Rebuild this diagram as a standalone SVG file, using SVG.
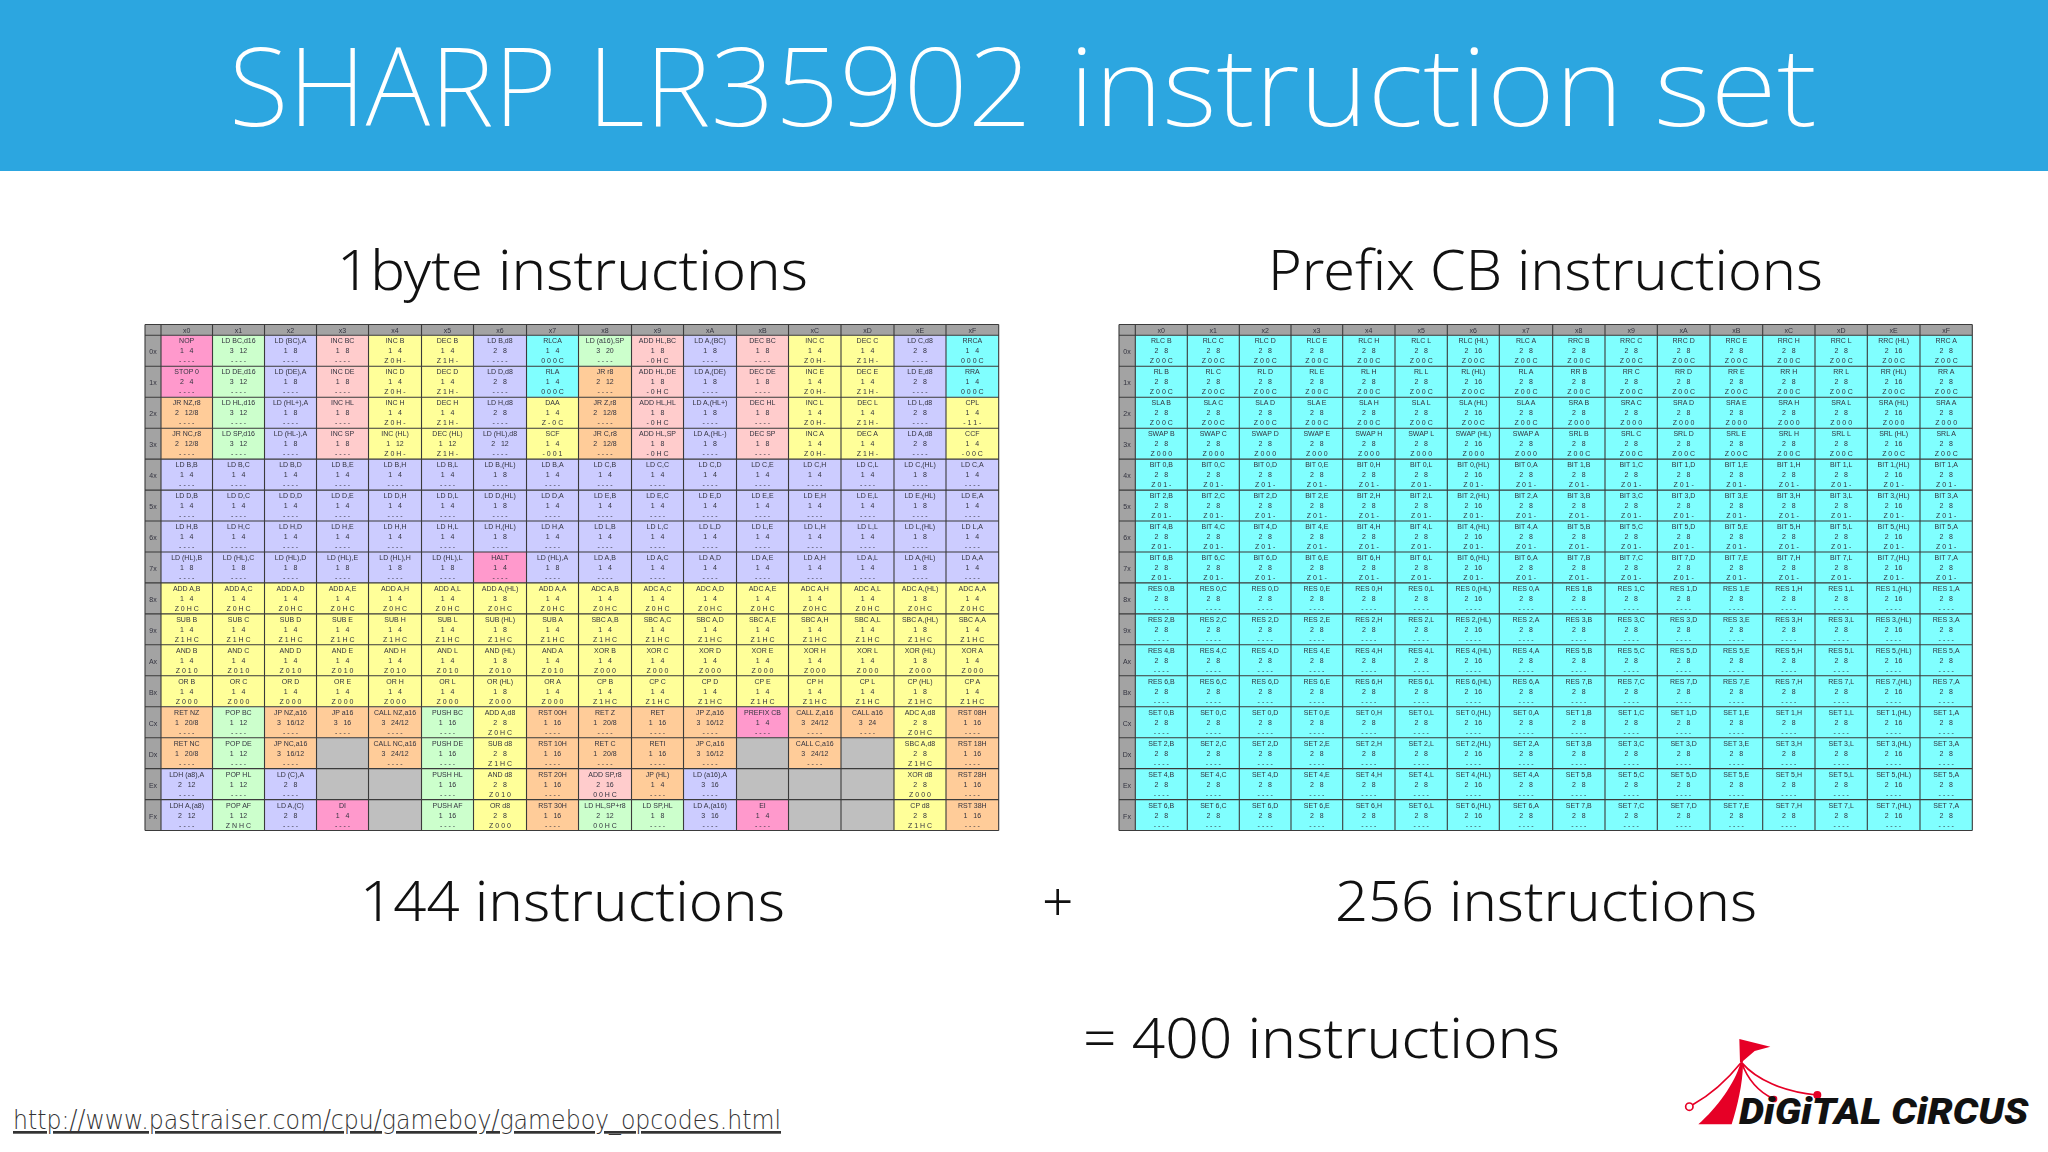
<svg xmlns="http://www.w3.org/2000/svg" width="2048" height="1152" viewBox="0 0 2048 1152">
<style>
.h{font-family:"Noto Sans","Open Sans",sans-serif;font-weight:300;fill:#111;font-size:55px}
.t{font-family:"Liberation Sans",Arial,sans-serif;font-size:7px;fill:#33333f;text-anchor:middle;filter:url(#b)}
.t text{white-space:pre}
.g{stroke:#3a3a3a;stroke-width:1.1;fill:none;filter:url(#b)}
.a{fill:#ccccff}.y{fill:#ffff99}.p{fill:#ff99cc}.o{fill:#ffcc99}.n{fill:#ccffcc}.r{fill:#ffcccc}.c{fill:#80ffff}.s{fill:#bfbfbf}.d{fill:#a3a3a3}
</style>
<defs><filter id="b" x="-5%" y="-5%" width="110%" height="110%"><feGaussianBlur stdDeviation="0.3"/></filter></defs>
<rect width="2048" height="1152" fill="#fff"/>
<g id="banner"><rect width="2048" height="171" fill="#2ca6e0"/>
<text y="125.5" font-family="Noto Sans,Open Sans,sans-serif" font-weight="200" font-size="109" fill="#fff"><tspan x="229" textLength="328" lengthAdjust="spacingAndGlyphs">SHARP</tspan> <tspan x="587" textLength="445" lengthAdjust="spacingAndGlyphs">LR35902</tspan> <tspan x="1069" textLength="554" lengthAdjust="spacingAndGlyphs">instruction</tspan> <tspan x="1654" textLength="163" lengthAdjust="spacingAndGlyphs">set</tspan></text></g>
<g id="headings">
<text class="h" x="337" y="290" textLength="471" lengthAdjust="spacingAndGlyphs">1byte instructions</text>
<text class="h" x="1268" y="290" textLength="555" lengthAdjust="spacingAndGlyphs">Prefix CB instructions</text>
<text class="h" x="360" y="920.5" textLength="425" lengthAdjust="spacingAndGlyphs">144 instructions</text>
<text class="h" x="1042" y="920.5">+</text>
<text class="h" x="1335" y="920.5" textLength="422" lengthAdjust="spacingAndGlyphs">256 instructions</text>
<text class="h" x="1083" y="1058" textLength="477" lengthAdjust="spacingAndGlyphs">= 400 instructions</text>
<text x="13" y="1129" font-family="DejaVu Sans,Noto Sans,sans-serif" font-weight="200" font-size="27" fill="#333" text-decoration="underline" textLength="768" lengthAdjust="spacingAndGlyphs">http://www.pastraiser.com/cpu/gameboy/gameboy_opcodes.html</text>
</g>
<g id="table-1byte">
<rect class="d" x="145" y="324.5" width="853.7" height="506"/>
<rect class="a" x="161" y="335.3" width="837.7" height="495.2"/>
<rect class="y" x="161" y="582.9" width="837.7" height="123.8"/>
<path class="y" d="M368.5 335.3H473.5V459.1H368.5ZM526.5 397.2H578.5V459.1H526.5ZM788.5 335.3H894V459.1H788.5ZM946 397.2H998.7V459.1H946ZM473.5 706.7H526.5V830.5H473.5ZM894 706.7H946V830.5H894Z"/>
<path class="p" d="M161 335.3H212.5V397.2H161ZM473.5 552H526.5V582.9H473.5ZM316.5 799.6H368.5V830.5H316.5ZM736.5 706.7H788.5V737.7H736.5ZM736.5 799.6H788.5V830.5H736.5Z"/>
<path class="o" d="M161 397.2H212.5V459.1H161ZM578.5 366.3H631.5V459.1H578.5ZM161 706.7H212.5V768.6H161ZM264.5 706.7H316.5V768.6H264.5ZM316.5 706.7H368.5V737.7H316.5ZM368.5 706.7H421.5V768.6H368.5ZM526.5 706.7H578.5V830.5H526.5ZM578.5 706.7H631.5V768.6H578.5ZM631.5 706.7H683.5V799.6H631.5ZM683.5 706.7H736.5V768.6H683.5ZM788.5 706.7H841V768.6H788.5ZM841 706.7H894V737.7H841ZM946 706.7H998.7V830.5H946Z"/>
<path class="n" d="M212.5 335.3H264.5V459.1H212.5ZM578.5 335.3H631.5V366.3H578.5ZM212.5 706.7H264.5V830.5H212.5ZM421.5 706.7H473.5V830.5H421.5ZM578.5 799.6H683.5V830.5H578.5Z"/>
<path class="r" d="M316.5 335.3H368.5V459.1H316.5ZM631.5 335.3H683.5V459.1H631.5ZM736.5 335.3H788.5V459.1H736.5ZM578.5 768.6H631.5V799.6H578.5Z"/>
<path class="c" d="M526.5 335.3H578.5V397.2H526.5ZM946 335.3H998.7V397.2H946Z"/>
<path class="s" d="M316.5 737.7H368.5V799.6H316.5ZM368.5 768.6H421.5V830.5H368.5ZM736.5 737.7H788.5V799.6H736.5ZM788.5 768.6H841V830.5H788.5ZM841 737.7H894V830.5H841Z"/>
<path class="g" d="M145 324.5H998.7M145 335.3H998.7M145 366.3H998.7M145 397.2H998.7M145 428.2H998.7M145 459.1H998.7M145 490.1H998.7M145 521H998.7M145 552H998.7M145 582.9H998.7M145 613.9H998.7M145 644.8H998.7M145 675.8H998.7M145 706.7H998.7M145 737.7H998.7M145 768.6H998.7M145 799.6H998.7M145 830.5H998.7M145 324.5V830.5M161 324.5V830.5M212.5 324.5V830.5M264.5 324.5V830.5M316.5 324.5V830.5M368.5 324.5V830.5M421.5 324.5V830.5M473.5 324.5V830.5M526.5 324.5V830.5M578.5 324.5V830.5M631.5 324.5V830.5M683.5 324.5V830.5M736.5 324.5V830.5M788.5 324.5V830.5M841 324.5V830.5M894 324.5V830.5M946 324.5V830.5M998.7 324.5V830.5"/>
<g class="t" transform="translate(153)"><text y="354">0x</text><text y="385">1x</text><text y="416">2x</text><text y="447">3x</text><text y="478">4x</text><text y="509">5x</text><text y="540">6x</text><text y="571">7x</text><text y="602">8x</text><text y="633">9x</text><text y="664">Ax</text><text y="695">Bx</text><text y="726">Cx</text><text y="757">Dx</text><text y="788">Ex</text><text y="819">Fx</text></g>
<g class="t" transform="translate(186.7)"><text y="333">x0</text><text y="343">NOP</text><text y="353">1   4</text><text y="363">- - - -</text><text y="374">STOP 0</text><text y="384">2   4</text><text y="394">- - - -</text><text y="405">JR NZ,r8</text><text y="415">2   12/8</text><text y="425">- - - -</text><text y="436">JR NC,r8</text><text y="446">2   12/8</text><text y="456">- - - -</text><text y="467">LD B,B</text><text y="477">1   4</text><text y="487">- - - -</text><text y="498">LD D,B</text><text y="508">1   4</text><text y="518">- - - -</text><text y="529">LD H,B</text><text y="539">1   4</text><text y="549">- - - -</text><text y="560">LD (HL),B</text><text y="570">1   8</text><text y="580">- - - -</text><text y="591">ADD A,B</text><text y="601">1   4</text><text y="611">Z 0 H C</text><text y="622">SUB B</text><text y="632">1   4</text><text y="642">Z 1 H C</text><text y="653">AND B</text><text y="663">1   4</text><text y="673">Z 0 1 0</text><text y="684">OR B</text><text y="694">1   4</text><text y="704">Z 0 0 0</text><text y="715">RET NZ</text><text y="725">1   20/8</text><text y="735">- - - -</text><text y="746">RET NC</text><text y="756">1   20/8</text><text y="766">- - - -</text><text y="777">LDH (a8),A</text><text y="787">2   12</text><text y="797">- - - -</text><text y="808">LDH A,(a8)</text><text y="818">2   12</text><text y="828">- - - -</text></g>
<g class="t" transform="translate(238.5)"><text y="333">x1</text><text y="343">LD BC,d16</text><text y="353">3   12</text><text y="363">- - - -</text><text y="374">LD DE,d16</text><text y="384">3   12</text><text y="394">- - - -</text><text y="405">LD HL,d16</text><text y="415">3   12</text><text y="425">- - - -</text><text y="436">LD SP,d16</text><text y="446">3   12</text><text y="456">- - - -</text><text y="467">LD B,C</text><text y="477">1   4</text><text y="487">- - - -</text><text y="498">LD D,C</text><text y="508">1   4</text><text y="518">- - - -</text><text y="529">LD H,C</text><text y="539">1   4</text><text y="549">- - - -</text><text y="560">LD (HL),C</text><text y="570">1   8</text><text y="580">- - - -</text><text y="591">ADD A,C</text><text y="601">1   4</text><text y="611">Z 0 H C</text><text y="622">SUB C</text><text y="632">1   4</text><text y="642">Z 1 H C</text><text y="653">AND C</text><text y="663">1   4</text><text y="673">Z 0 1 0</text><text y="684">OR C</text><text y="694">1   4</text><text y="704">Z 0 0 0</text><text y="715">POP BC</text><text y="725">1   12</text><text y="735">- - - -</text><text y="746">POP DE</text><text y="756">1   12</text><text y="766">- - - -</text><text y="777">POP HL</text><text y="787">1   12</text><text y="797">- - - -</text><text y="808">POP AF</text><text y="818">1   12</text><text y="828">Z N H C</text></g>
<g class="t" transform="translate(290.5)"><text y="333">x2</text><text y="343">LD (BC),A</text><text y="353">1   8</text><text y="363">- - - -</text><text y="374">LD (DE),A</text><text y="384">1   8</text><text y="394">- - - -</text><text y="405">LD (HL+),A</text><text y="415">1   8</text><text y="425">- - - -</text><text y="436">LD (HL-),A</text><text y="446">1   8</text><text y="456">- - - -</text><text y="467">LD B,D</text><text y="477">1   4</text><text y="487">- - - -</text><text y="498">LD D,D</text><text y="508">1   4</text><text y="518">- - - -</text><text y="529">LD H,D</text><text y="539">1   4</text><text y="549">- - - -</text><text y="560">LD (HL),D</text><text y="570">1   8</text><text y="580">- - - -</text><text y="591">ADD A,D</text><text y="601">1   4</text><text y="611">Z 0 H C</text><text y="622">SUB D</text><text y="632">1   4</text><text y="642">Z 1 H C</text><text y="653">AND D</text><text y="663">1   4</text><text y="673">Z 0 1 0</text><text y="684">OR D</text><text y="694">1   4</text><text y="704">Z 0 0 0</text><text y="715">JP NZ,a16</text><text y="725">3   16/12</text><text y="735">- - - -</text><text y="746">JP NC,a16</text><text y="756">3   16/12</text><text y="766">- - - -</text><text y="777">LD (C),A</text><text y="787">2   8</text><text y="797">- - - -</text><text y="808">LD A,(C)</text><text y="818">2   8</text><text y="828">- - - -</text></g>
<g class="t" transform="translate(342.5)"><text y="333">x3</text><text y="343">INC BC</text><text y="353">1   8</text><text y="363">- - - -</text><text y="374">INC DE</text><text y="384">1   8</text><text y="394">- - - -</text><text y="405">INC HL</text><text y="415">1   8</text><text y="425">- - - -</text><text y="436">INC SP</text><text y="446">1   8</text><text y="456">- - - -</text><text y="467">LD B,E</text><text y="477">1   4</text><text y="487">- - - -</text><text y="498">LD D,E</text><text y="508">1   4</text><text y="518">- - - -</text><text y="529">LD H,E</text><text y="539">1   4</text><text y="549">- - - -</text><text y="560">LD (HL),E</text><text y="570">1   8</text><text y="580">- - - -</text><text y="591">ADD A,E</text><text y="601">1   4</text><text y="611">Z 0 H C</text><text y="622">SUB E</text><text y="632">1   4</text><text y="642">Z 1 H C</text><text y="653">AND E</text><text y="663">1   4</text><text y="673">Z 0 1 0</text><text y="684">OR E</text><text y="694">1   4</text><text y="704">Z 0 0 0</text><text y="715">JP a16</text><text y="725">3   16</text><text y="735">- - - -</text><text y="808">DI</text><text y="818">1   4</text><text y="828">- - - -</text></g>
<g class="t" transform="translate(395)"><text y="333">x4</text><text y="343">INC B</text><text y="353">1   4</text><text y="363">Z 0 H -</text><text y="374">INC D</text><text y="384">1   4</text><text y="394">Z 0 H -</text><text y="405">INC H</text><text y="415">1   4</text><text y="425">Z 0 H -</text><text y="436">INC (HL)</text><text y="446">1   12</text><text y="456">Z 0 H -</text><text y="467">LD B,H</text><text y="477">1   4</text><text y="487">- - - -</text><text y="498">LD D,H</text><text y="508">1   4</text><text y="518">- - - -</text><text y="529">LD H,H</text><text y="539">1   4</text><text y="549">- - - -</text><text y="560">LD (HL),H</text><text y="570">1   8</text><text y="580">- - - -</text><text y="591">ADD A,H</text><text y="601">1   4</text><text y="611">Z 0 H C</text><text y="622">SUB H</text><text y="632">1   4</text><text y="642">Z 1 H C</text><text y="653">AND H</text><text y="663">1   4</text><text y="673">Z 0 1 0</text><text y="684">OR H</text><text y="694">1   4</text><text y="704">Z 0 0 0</text><text y="715">CALL NZ,a16</text><text y="725">3   24/12</text><text y="735">- - - -</text><text y="746">CALL NC,a16</text><text y="756">3   24/12</text><text y="766">- - - -</text></g>
<g class="t" transform="translate(447.5)"><text y="333">x5</text><text y="343">DEC B</text><text y="353">1   4</text><text y="363">Z 1 H -</text><text y="374">DEC D</text><text y="384">1   4</text><text y="394">Z 1 H -</text><text y="405">DEC H</text><text y="415">1   4</text><text y="425">Z 1 H -</text><text y="436">DEC (HL)</text><text y="446">1   12</text><text y="456">Z 1 H -</text><text y="467">LD B,L</text><text y="477">1   4</text><text y="487">- - - -</text><text y="498">LD D,L</text><text y="508">1   4</text><text y="518">- - - -</text><text y="529">LD H,L</text><text y="539">1   4</text><text y="549">- - - -</text><text y="560">LD (HL),L</text><text y="570">1   8</text><text y="580">- - - -</text><text y="591">ADD A,L</text><text y="601">1   4</text><text y="611">Z 0 H C</text><text y="622">SUB L</text><text y="632">1   4</text><text y="642">Z 1 H C</text><text y="653">AND L</text><text y="663">1   4</text><text y="673">Z 0 1 0</text><text y="684">OR L</text><text y="694">1   4</text><text y="704">Z 0 0 0</text><text y="715">PUSH BC</text><text y="725">1   16</text><text y="735">- - - -</text><text y="746">PUSH DE</text><text y="756">1   16</text><text y="766">- - - -</text><text y="777">PUSH HL</text><text y="787">1   16</text><text y="797">- - - -</text><text y="808">PUSH AF</text><text y="818">1   16</text><text y="828">- - - -</text></g>
<g class="t" transform="translate(500)"><text y="333">x6</text><text y="343">LD B,d8</text><text y="353">2   8</text><text y="363">- - - -</text><text y="374">LD D,d8</text><text y="384">2   8</text><text y="394">- - - -</text><text y="405">LD H,d8</text><text y="415">2   8</text><text y="425">- - - -</text><text y="436">LD (HL),d8</text><text y="446">2   12</text><text y="456">- - - -</text><text y="467">LD B,(HL)</text><text y="477">1   8</text><text y="487">- - - -</text><text y="498">LD D,(HL)</text><text y="508">1   8</text><text y="518">- - - -</text><text y="529">LD H,(HL)</text><text y="539">1   8</text><text y="549">- - - -</text><text y="560">HALT</text><text y="570">1   4</text><text y="580">- - - -</text><text y="591">ADD A,(HL)</text><text y="601">1   8</text><text y="611">Z 0 H C</text><text y="622">SUB (HL)</text><text y="632">1   8</text><text y="642">Z 1 H C</text><text y="653">AND (HL)</text><text y="663">1   8</text><text y="673">Z 0 1 0</text><text y="684">OR (HL)</text><text y="694">1   8</text><text y="704">Z 0 0 0</text><text y="715">ADD A,d8</text><text y="725">2   8</text><text y="735">Z 0 H C</text><text y="746">SUB d8</text><text y="756">2   8</text><text y="766">Z 1 H C</text><text y="777">AND d8</text><text y="787">2   8</text><text y="797">Z 0 1 0</text><text y="808">OR d8</text><text y="818">2   8</text><text y="828">Z 0 0 0</text></g>
<g class="t" transform="translate(552.5)"><text y="333">x7</text><text y="343">RLCA</text><text y="353">1   4</text><text y="363">0 0 0 C</text><text y="374">RLA</text><text y="384">1   4</text><text y="394">0 0 0 C</text><text y="405">DAA</text><text y="415">1   4</text><text y="425">Z - 0 C</text><text y="436">SCF</text><text y="446">1   4</text><text y="456">- 0 0 1</text><text y="467">LD B,A</text><text y="477">1   4</text><text y="487">- - - -</text><text y="498">LD D,A</text><text y="508">1   4</text><text y="518">- - - -</text><text y="529">LD H,A</text><text y="539">1   4</text><text y="549">- - - -</text><text y="560">LD (HL),A</text><text y="570">1   8</text><text y="580">- - - -</text><text y="591">ADD A,A</text><text y="601">1   4</text><text y="611">Z 0 H C</text><text y="622">SUB A</text><text y="632">1   4</text><text y="642">Z 1 H C</text><text y="653">AND A</text><text y="663">1   4</text><text y="673">Z 0 1 0</text><text y="684">OR A</text><text y="694">1   4</text><text y="704">Z 0 0 0</text><text y="715">RST 00H</text><text y="725">1   16</text><text y="735">- - - -</text><text y="746">RST 10H</text><text y="756">1   16</text><text y="766">- - - -</text><text y="777">RST 20H</text><text y="787">1   16</text><text y="797">- - - -</text><text y="808">RST 30H</text><text y="818">1   16</text><text y="828">- - - -</text></g>
<g class="t" transform="translate(605)"><text y="333">x8</text><text y="343">LD (a16),SP</text><text y="353">3   20</text><text y="363">- - - -</text><text y="374">JR r8</text><text y="384">2   12</text><text y="394">- - - -</text><text y="405">JR Z,r8</text><text y="415">2   12/8</text><text y="425">- - - -</text><text y="436">JR C,r8</text><text y="446">2   12/8</text><text y="456">- - - -</text><text y="467">LD C,B</text><text y="477">1   4</text><text y="487">- - - -</text><text y="498">LD E,B</text><text y="508">1   4</text><text y="518">- - - -</text><text y="529">LD L,B</text><text y="539">1   4</text><text y="549">- - - -</text><text y="560">LD A,B</text><text y="570">1   4</text><text y="580">- - - -</text><text y="591">ADC A,B</text><text y="601">1   4</text><text y="611">Z 0 H C</text><text y="622">SBC A,B</text><text y="632">1   4</text><text y="642">Z 1 H C</text><text y="653">XOR B</text><text y="663">1   4</text><text y="673">Z 0 0 0</text><text y="684">CP B</text><text y="694">1   4</text><text y="704">Z 1 H C</text><text y="715">RET Z</text><text y="725">1   20/8</text><text y="735">- - - -</text><text y="746">RET C</text><text y="756">1   20/8</text><text y="766">- - - -</text><text y="777">ADD SP,r8</text><text y="787">2   16</text><text y="797">0 0 H C</text><text y="808">LD HL,SP+r8</text><text y="818">2   12</text><text y="828">0 0 H C</text></g>
<g class="t" transform="translate(657.5)"><text y="333">x9</text><text y="343">ADD HL,BC</text><text y="353">1   8</text><text y="363">- 0 H C</text><text y="374">ADD HL,DE</text><text y="384">1   8</text><text y="394">- 0 H C</text><text y="405">ADD HL,HL</text><text y="415">1   8</text><text y="425">- 0 H C</text><text y="436">ADD HL,SP</text><text y="446">1   8</text><text y="456">- 0 H C</text><text y="467">LD C,C</text><text y="477">1   4</text><text y="487">- - - -</text><text y="498">LD E,C</text><text y="508">1   4</text><text y="518">- - - -</text><text y="529">LD L,C</text><text y="539">1   4</text><text y="549">- - - -</text><text y="560">LD A,C</text><text y="570">1   4</text><text y="580">- - - -</text><text y="591">ADC A,C</text><text y="601">1   4</text><text y="611">Z 0 H C</text><text y="622">SBC A,C</text><text y="632">1   4</text><text y="642">Z 1 H C</text><text y="653">XOR C</text><text y="663">1   4</text><text y="673">Z 0 0 0</text><text y="684">CP C</text><text y="694">1   4</text><text y="704">Z 1 H C</text><text y="715">RET</text><text y="725">1   16</text><text y="735">- - - -</text><text y="746">RETI</text><text y="756">1   16</text><text y="766">- - - -</text><text y="777">JP (HL)</text><text y="787">1   4</text><text y="797">- - - -</text><text y="808">LD SP,HL</text><text y="818">1   8</text><text y="828">- - - -</text></g>
<g class="t" transform="translate(710)"><text y="333">xA</text><text y="343">LD A,(BC)</text><text y="353">1   8</text><text y="363">- - - -</text><text y="374">LD A,(DE)</text><text y="384">1   8</text><text y="394">- - - -</text><text y="405">LD A,(HL+)</text><text y="415">1   8</text><text y="425">- - - -</text><text y="436">LD A,(HL-)</text><text y="446">1   8</text><text y="456">- - - -</text><text y="467">LD C,D</text><text y="477">1   4</text><text y="487">- - - -</text><text y="498">LD E,D</text><text y="508">1   4</text><text y="518">- - - -</text><text y="529">LD L,D</text><text y="539">1   4</text><text y="549">- - - -</text><text y="560">LD A,D</text><text y="570">1   4</text><text y="580">- - - -</text><text y="591">ADC A,D</text><text y="601">1   4</text><text y="611">Z 0 H C</text><text y="622">SBC A,D</text><text y="632">1   4</text><text y="642">Z 1 H C</text><text y="653">XOR D</text><text y="663">1   4</text><text y="673">Z 0 0 0</text><text y="684">CP D</text><text y="694">1   4</text><text y="704">Z 1 H C</text><text y="715">JP Z,a16</text><text y="725">3   16/12</text><text y="735">- - - -</text><text y="746">JP C,a16</text><text y="756">3   16/12</text><text y="766">- - - -</text><text y="777">LD (a16),A</text><text y="787">3   16</text><text y="797">- - - -</text><text y="808">LD A,(a16)</text><text y="818">3   16</text><text y="828">- - - -</text></g>
<g class="t" transform="translate(762.5)"><text y="333">xB</text><text y="343">DEC BC</text><text y="353">1   8</text><text y="363">- - - -</text><text y="374">DEC DE</text><text y="384">1   8</text><text y="394">- - - -</text><text y="405">DEC HL</text><text y="415">1   8</text><text y="425">- - - -</text><text y="436">DEC SP</text><text y="446">1   8</text><text y="456">- - - -</text><text y="467">LD C,E</text><text y="477">1   4</text><text y="487">- - - -</text><text y="498">LD E,E</text><text y="508">1   4</text><text y="518">- - - -</text><text y="529">LD L,E</text><text y="539">1   4</text><text y="549">- - - -</text><text y="560">LD A,E</text><text y="570">1   4</text><text y="580">- - - -</text><text y="591">ADC A,E</text><text y="601">1   4</text><text y="611">Z 0 H C</text><text y="622">SBC A,E</text><text y="632">1   4</text><text y="642">Z 1 H C</text><text y="653">XOR E</text><text y="663">1   4</text><text y="673">Z 0 0 0</text><text y="684">CP E</text><text y="694">1   4</text><text y="704">Z 1 H C</text><text y="715">PREFIX CB</text><text y="725">1   4</text><text y="735">- - - -</text><text y="808">EI</text><text y="818">1   4</text><text y="828">- - - -</text></g>
<g class="t" transform="translate(814.8)"><text y="333">xC</text><text y="343">INC C</text><text y="353">1   4</text><text y="363">Z 0 H -</text><text y="374">INC E</text><text y="384">1   4</text><text y="394">Z 0 H -</text><text y="405">INC L</text><text y="415">1   4</text><text y="425">Z 0 H -</text><text y="436">INC A</text><text y="446">1   4</text><text y="456">Z 0 H -</text><text y="467">LD C,H</text><text y="477">1   4</text><text y="487">- - - -</text><text y="498">LD E,H</text><text y="508">1   4</text><text y="518">- - - -</text><text y="529">LD L,H</text><text y="539">1   4</text><text y="549">- - - -</text><text y="560">LD A,H</text><text y="570">1   4</text><text y="580">- - - -</text><text y="591">ADC A,H</text><text y="601">1   4</text><text y="611">Z 0 H C</text><text y="622">SBC A,H</text><text y="632">1   4</text><text y="642">Z 1 H C</text><text y="653">XOR H</text><text y="663">1   4</text><text y="673">Z 0 0 0</text><text y="684">CP H</text><text y="694">1   4</text><text y="704">Z 1 H C</text><text y="715">CALL Z,a16</text><text y="725">3   24/12</text><text y="735">- - - -</text><text y="746">CALL C,a16</text><text y="756">3   24/12</text><text y="766">- - - -</text></g>
<g class="t" transform="translate(867.5)"><text y="333">xD</text><text y="343">DEC C</text><text y="353">1   4</text><text y="363">Z 1 H -</text><text y="374">DEC E</text><text y="384">1   4</text><text y="394">Z 1 H -</text><text y="405">DEC L</text><text y="415">1   4</text><text y="425">Z 1 H -</text><text y="436">DEC A</text><text y="446">1   4</text><text y="456">Z 1 H -</text><text y="467">LD C,L</text><text y="477">1   4</text><text y="487">- - - -</text><text y="498">LD E,L</text><text y="508">1   4</text><text y="518">- - - -</text><text y="529">LD L,L</text><text y="539">1   4</text><text y="549">- - - -</text><text y="560">LD A,L</text><text y="570">1   4</text><text y="580">- - - -</text><text y="591">ADC A,L</text><text y="601">1   4</text><text y="611">Z 0 H C</text><text y="622">SBC A,L</text><text y="632">1   4</text><text y="642">Z 1 H C</text><text y="653">XOR L</text><text y="663">1   4</text><text y="673">Z 0 0 0</text><text y="684">CP L</text><text y="694">1   4</text><text y="704">Z 1 H C</text><text y="715">CALL a16</text><text y="725">3   24</text><text y="735">- - - -</text></g>
<g class="t" transform="translate(920)"><text y="333">xE</text><text y="343">LD C,d8</text><text y="353">2   8</text><text y="363">- - - -</text><text y="374">LD E,d8</text><text y="384">2   8</text><text y="394">- - - -</text><text y="405">LD L,d8</text><text y="415">2   8</text><text y="425">- - - -</text><text y="436">LD A,d8</text><text y="446">2   8</text><text y="456">- - - -</text><text y="467">LD C,(HL)</text><text y="477">1   8</text><text y="487">- - - -</text><text y="498">LD E,(HL)</text><text y="508">1   8</text><text y="518">- - - -</text><text y="529">LD L,(HL)</text><text y="539">1   8</text><text y="549">- - - -</text><text y="560">LD A,(HL)</text><text y="570">1   8</text><text y="580">- - - -</text><text y="591">ADC A,(HL)</text><text y="601">1   8</text><text y="611">Z 0 H C</text><text y="622">SBC A,(HL)</text><text y="632">1   8</text><text y="642">Z 1 H C</text><text y="653">XOR (HL)</text><text y="663">1   8</text><text y="673">Z 0 0 0</text><text y="684">CP (HL)</text><text y="694">1   8</text><text y="704">Z 1 H C</text><text y="715">ADC A,d8</text><text y="725">2   8</text><text y="735">Z 0 H C</text><text y="746">SBC A,d8</text><text y="756">2   8</text><text y="766">Z 1 H C</text><text y="777">XOR d8</text><text y="787">2   8</text><text y="797">Z 0 0 0</text><text y="808">CP d8</text><text y="818">2   8</text><text y="828">Z 1 H C</text></g>
<g class="t" transform="translate(972.3)"><text y="333">xF</text><text y="343">RRCA</text><text y="353">1   4</text><text y="363">0 0 0 C</text><text y="374">RRA</text><text y="384">1   4</text><text y="394">0 0 0 C</text><text y="405">CPL</text><text y="415">1   4</text><text y="425">- 1 1 -</text><text y="436">CCF</text><text y="446">1   4</text><text y="456">- 0 0 C</text><text y="467">LD C,A</text><text y="477">1   4</text><text y="487">- - - -</text><text y="498">LD E,A</text><text y="508">1   4</text><text y="518">- - - -</text><text y="529">LD L,A</text><text y="539">1   4</text><text y="549">- - - -</text><text y="560">LD A,A</text><text y="570">1   4</text><text y="580">- - - -</text><text y="591">ADC A,A</text><text y="601">1   4</text><text y="611">Z 0 H C</text><text y="622">SBC A,A</text><text y="632">1   4</text><text y="642">Z 1 H C</text><text y="653">XOR A</text><text y="663">1   4</text><text y="673">Z 0 0 0</text><text y="684">CP A</text><text y="694">1   4</text><text y="704">Z 1 H C</text><text y="715">RST 08H</text><text y="725">1   16</text><text y="735">- - - -</text><text y="746">RST 18H</text><text y="756">1   16</text><text y="766">- - - -</text><text y="777">RST 28H</text><text y="787">1   16</text><text y="797">- - - -</text><text y="808">RST 38H</text><text y="818">1   16</text><text y="828">- - - -</text></g>
</g>
<g id="table-cb">
<rect class="d" x="1119" y="324.5" width="853.3" height="506"/>
<rect class="c" x="1135.3" y="335.3" width="837" height="495.2"/>
<path class="g" d="M1119 324.5H1972.3M1119 335.3H1972.3M1119 366.3H1972.3M1119 397.2H1972.3M1119 428.2H1972.3M1119 459.1H1972.3M1119 490.1H1972.3M1119 521H1972.3M1119 552H1972.3M1119 582.9H1972.3M1119 613.9H1972.3M1119 644.8H1972.3M1119 675.8H1972.3M1119 706.7H1972.3M1119 737.7H1972.3M1119 768.6H1972.3M1119 799.6H1972.3M1119 830.5H1972.3M1119 324.5V830.5M1135.3 324.5V830.5M1187.3 324.5V830.5M1239.3 324.5V830.5M1291 324.5V830.5M1342.7 324.5V830.5M1395 324.5V830.5M1447.3 324.5V830.5M1499.3 324.5V830.5M1552.7 324.5V830.5M1605 324.5V830.5M1657.3 324.5V830.5M1710 324.5V830.5M1762.7 324.5V830.5M1815 324.5V830.5M1867.3 324.5V830.5M1920 324.5V830.5M1972.3 324.5V830.5"/>
<g class="t" transform="translate(1127)"><text y="354">0x</text><text y="385">1x</text><text y="416">2x</text><text y="447">3x</text><text y="478">4x</text><text y="509">5x</text><text y="540">6x</text><text y="571">7x</text><text y="602">8x</text><text y="633">9x</text><text y="664">Ax</text><text y="695">Bx</text><text y="726">Cx</text><text y="757">Dx</text><text y="788">Ex</text><text y="819">Fx</text></g>
<g class="t" transform="translate(1161.3)"><text y="333">x0</text><text y="343">RLC B</text><text y="353">2   8</text><text y="363">Z 0 0 C</text><text y="374">RL B</text><text y="384">2   8</text><text y="394">Z 0 0 C</text><text y="405">SLA B</text><text y="415">2   8</text><text y="425">Z 0 0 C</text><text y="436">SWAP B</text><text y="446">2   8</text><text y="456">Z 0 0 0</text><text y="467">BIT 0,B</text><text y="477">2   8</text><text y="487">Z 0 1 -</text><text y="498">BIT 2,B</text><text y="508">2   8</text><text y="518">Z 0 1 -</text><text y="529">BIT 4,B</text><text y="539">2   8</text><text y="549">Z 0 1 -</text><text y="560">BIT 6,B</text><text y="570">2   8</text><text y="580">Z 0 1 -</text><text y="591">RES 0,B</text><text y="601">2   8</text><text y="611">- - - -</text><text y="622">RES 2,B</text><text y="632">2   8</text><text y="642">- - - -</text><text y="653">RES 4,B</text><text y="663">2   8</text><text y="673">- - - -</text><text y="684">RES 6,B</text><text y="694">2   8</text><text y="704">- - - -</text><text y="715">SET 0,B</text><text y="725">2   8</text><text y="735">- - - -</text><text y="746">SET 2,B</text><text y="756">2   8</text><text y="766">- - - -</text><text y="777">SET 4,B</text><text y="787">2   8</text><text y="797">- - - -</text><text y="808">SET 6,B</text><text y="818">2   8</text><text y="828">- - - -</text></g>
<g class="t" transform="translate(1213.3)"><text y="333">x1</text><text y="343">RLC C</text><text y="353">2   8</text><text y="363">Z 0 0 C</text><text y="374">RL C</text><text y="384">2   8</text><text y="394">Z 0 0 C</text><text y="405">SLA C</text><text y="415">2   8</text><text y="425">Z 0 0 C</text><text y="436">SWAP C</text><text y="446">2   8</text><text y="456">Z 0 0 0</text><text y="467">BIT 0,C</text><text y="477">2   8</text><text y="487">Z 0 1 -</text><text y="498">BIT 2,C</text><text y="508">2   8</text><text y="518">Z 0 1 -</text><text y="529">BIT 4,C</text><text y="539">2   8</text><text y="549">Z 0 1 -</text><text y="560">BIT 6,C</text><text y="570">2   8</text><text y="580">Z 0 1 -</text><text y="591">RES 0,C</text><text y="601">2   8</text><text y="611">- - - -</text><text y="622">RES 2,C</text><text y="632">2   8</text><text y="642">- - - -</text><text y="653">RES 4,C</text><text y="663">2   8</text><text y="673">- - - -</text><text y="684">RES 6,C</text><text y="694">2   8</text><text y="704">- - - -</text><text y="715">SET 0,C</text><text y="725">2   8</text><text y="735">- - - -</text><text y="746">SET 2,C</text><text y="756">2   8</text><text y="766">- - - -</text><text y="777">SET 4,C</text><text y="787">2   8</text><text y="797">- - - -</text><text y="808">SET 6,C</text><text y="818">2   8</text><text y="828">- - - -</text></g>
<g class="t" transform="translate(1265.2)"><text y="333">x2</text><text y="343">RLC D</text><text y="353">2   8</text><text y="363">Z 0 0 C</text><text y="374">RL D</text><text y="384">2   8</text><text y="394">Z 0 0 C</text><text y="405">SLA D</text><text y="415">2   8</text><text y="425">Z 0 0 C</text><text y="436">SWAP D</text><text y="446">2   8</text><text y="456">Z 0 0 0</text><text y="467">BIT 0,D</text><text y="477">2   8</text><text y="487">Z 0 1 -</text><text y="498">BIT 2,D</text><text y="508">2   8</text><text y="518">Z 0 1 -</text><text y="529">BIT 4,D</text><text y="539">2   8</text><text y="549">Z 0 1 -</text><text y="560">BIT 6,D</text><text y="570">2   8</text><text y="580">Z 0 1 -</text><text y="591">RES 0,D</text><text y="601">2   8</text><text y="611">- - - -</text><text y="622">RES 2,D</text><text y="632">2   8</text><text y="642">- - - -</text><text y="653">RES 4,D</text><text y="663">2   8</text><text y="673">- - - -</text><text y="684">RES 6,D</text><text y="694">2   8</text><text y="704">- - - -</text><text y="715">SET 0,D</text><text y="725">2   8</text><text y="735">- - - -</text><text y="746">SET 2,D</text><text y="756">2   8</text><text y="766">- - - -</text><text y="777">SET 4,D</text><text y="787">2   8</text><text y="797">- - - -</text><text y="808">SET 6,D</text><text y="818">2   8</text><text y="828">- - - -</text></g>
<g class="t" transform="translate(1316.8)"><text y="333">x3</text><text y="343">RLC E</text><text y="353">2   8</text><text y="363">Z 0 0 C</text><text y="374">RL E</text><text y="384">2   8</text><text y="394">Z 0 0 C</text><text y="405">SLA E</text><text y="415">2   8</text><text y="425">Z 0 0 C</text><text y="436">SWAP E</text><text y="446">2   8</text><text y="456">Z 0 0 0</text><text y="467">BIT 0,E</text><text y="477">2   8</text><text y="487">Z 0 1 -</text><text y="498">BIT 2,E</text><text y="508">2   8</text><text y="518">Z 0 1 -</text><text y="529">BIT 4,E</text><text y="539">2   8</text><text y="549">Z 0 1 -</text><text y="560">BIT 6,E</text><text y="570">2   8</text><text y="580">Z 0 1 -</text><text y="591">RES 0,E</text><text y="601">2   8</text><text y="611">- - - -</text><text y="622">RES 2,E</text><text y="632">2   8</text><text y="642">- - - -</text><text y="653">RES 4,E</text><text y="663">2   8</text><text y="673">- - - -</text><text y="684">RES 6,E</text><text y="694">2   8</text><text y="704">- - - -</text><text y="715">SET 0,E</text><text y="725">2   8</text><text y="735">- - - -</text><text y="746">SET 2,E</text><text y="756">2   8</text><text y="766">- - - -</text><text y="777">SET 4,E</text><text y="787">2   8</text><text y="797">- - - -</text><text y="808">SET 6,E</text><text y="818">2   8</text><text y="828">- - - -</text></g>
<g class="t" transform="translate(1368.8)"><text y="333">x4</text><text y="343">RLC H</text><text y="353">2   8</text><text y="363">Z 0 0 C</text><text y="374">RL H</text><text y="384">2   8</text><text y="394">Z 0 0 C</text><text y="405">SLA H</text><text y="415">2   8</text><text y="425">Z 0 0 C</text><text y="436">SWAP H</text><text y="446">2   8</text><text y="456">Z 0 0 0</text><text y="467">BIT 0,H</text><text y="477">2   8</text><text y="487">Z 0 1 -</text><text y="498">BIT 2,H</text><text y="508">2   8</text><text y="518">Z 0 1 -</text><text y="529">BIT 4,H</text><text y="539">2   8</text><text y="549">Z 0 1 -</text><text y="560">BIT 6,H</text><text y="570">2   8</text><text y="580">Z 0 1 -</text><text y="591">RES 0,H</text><text y="601">2   8</text><text y="611">- - - -</text><text y="622">RES 2,H</text><text y="632">2   8</text><text y="642">- - - -</text><text y="653">RES 4,H</text><text y="663">2   8</text><text y="673">- - - -</text><text y="684">RES 6,H</text><text y="694">2   8</text><text y="704">- - - -</text><text y="715">SET 0,H</text><text y="725">2   8</text><text y="735">- - - -</text><text y="746">SET 2,H</text><text y="756">2   8</text><text y="766">- - - -</text><text y="777">SET 4,H</text><text y="787">2   8</text><text y="797">- - - -</text><text y="808">SET 6,H</text><text y="818">2   8</text><text y="828">- - - -</text></g>
<g class="t" transform="translate(1421.2)"><text y="333">x5</text><text y="343">RLC L</text><text y="353">2   8</text><text y="363">Z 0 0 C</text><text y="374">RL L</text><text y="384">2   8</text><text y="394">Z 0 0 C</text><text y="405">SLA L</text><text y="415">2   8</text><text y="425">Z 0 0 C</text><text y="436">SWAP L</text><text y="446">2   8</text><text y="456">Z 0 0 0</text><text y="467">BIT 0,L</text><text y="477">2   8</text><text y="487">Z 0 1 -</text><text y="498">BIT 2,L</text><text y="508">2   8</text><text y="518">Z 0 1 -</text><text y="529">BIT 4,L</text><text y="539">2   8</text><text y="549">Z 0 1 -</text><text y="560">BIT 6,L</text><text y="570">2   8</text><text y="580">Z 0 1 -</text><text y="591">RES 0,L</text><text y="601">2   8</text><text y="611">- - - -</text><text y="622">RES 2,L</text><text y="632">2   8</text><text y="642">- - - -</text><text y="653">RES 4,L</text><text y="663">2   8</text><text y="673">- - - -</text><text y="684">RES 6,L</text><text y="694">2   8</text><text y="704">- - - -</text><text y="715">SET 0,L</text><text y="725">2   8</text><text y="735">- - - -</text><text y="746">SET 2,L</text><text y="756">2   8</text><text y="766">- - - -</text><text y="777">SET 4,L</text><text y="787">2   8</text><text y="797">- - - -</text><text y="808">SET 6,L</text><text y="818">2   8</text><text y="828">- - - -</text></g>
<g class="t" transform="translate(1473.3)"><text y="333">x6</text><text y="343">RLC (HL)</text><text y="353">2   16</text><text y="363">Z 0 0 C</text><text y="374">RL (HL)</text><text y="384">2   16</text><text y="394">Z 0 0 C</text><text y="405">SLA (HL)</text><text y="415">2   16</text><text y="425">Z 0 0 C</text><text y="436">SWAP (HL)</text><text y="446">2   16</text><text y="456">Z 0 0 0</text><text y="467">BIT 0,(HL)</text><text y="477">2   16</text><text y="487">Z 0 1 -</text><text y="498">BIT 2,(HL)</text><text y="508">2   16</text><text y="518">Z 0 1 -</text><text y="529">BIT 4,(HL)</text><text y="539">2   16</text><text y="549">Z 0 1 -</text><text y="560">BIT 6,(HL)</text><text y="570">2   16</text><text y="580">Z 0 1 -</text><text y="591">RES 0,(HL)</text><text y="601">2   16</text><text y="611">- - - -</text><text y="622">RES 2,(HL)</text><text y="632">2   16</text><text y="642">- - - -</text><text y="653">RES 4,(HL)</text><text y="663">2   16</text><text y="673">- - - -</text><text y="684">RES 6,(HL)</text><text y="694">2   16</text><text y="704">- - - -</text><text y="715">SET 0,(HL)</text><text y="725">2   16</text><text y="735">- - - -</text><text y="746">SET 2,(HL)</text><text y="756">2   16</text><text y="766">- - - -</text><text y="777">SET 4,(HL)</text><text y="787">2   16</text><text y="797">- - - -</text><text y="808">SET 6,(HL)</text><text y="818">2   16</text><text y="828">- - - -</text></g>
<g class="t" transform="translate(1526)"><text y="333">x7</text><text y="343">RLC A</text><text y="353">2   8</text><text y="363">Z 0 0 C</text><text y="374">RL A</text><text y="384">2   8</text><text y="394">Z 0 0 C</text><text y="405">SLA A</text><text y="415">2   8</text><text y="425">Z 0 0 C</text><text y="436">SWAP A</text><text y="446">2   8</text><text y="456">Z 0 0 0</text><text y="467">BIT 0,A</text><text y="477">2   8</text><text y="487">Z 0 1 -</text><text y="498">BIT 2,A</text><text y="508">2   8</text><text y="518">Z 0 1 -</text><text y="529">BIT 4,A</text><text y="539">2   8</text><text y="549">Z 0 1 -</text><text y="560">BIT 6,A</text><text y="570">2   8</text><text y="580">Z 0 1 -</text><text y="591">RES 0,A</text><text y="601">2   8</text><text y="611">- - - -</text><text y="622">RES 2,A</text><text y="632">2   8</text><text y="642">- - - -</text><text y="653">RES 4,A</text><text y="663">2   8</text><text y="673">- - - -</text><text y="684">RES 6,A</text><text y="694">2   8</text><text y="704">- - - -</text><text y="715">SET 0,A</text><text y="725">2   8</text><text y="735">- - - -</text><text y="746">SET 2,A</text><text y="756">2   8</text><text y="766">- - - -</text><text y="777">SET 4,A</text><text y="787">2   8</text><text y="797">- - - -</text><text y="808">SET 6,A</text><text y="818">2   8</text><text y="828">- - - -</text></g>
<g class="t" transform="translate(1578.8)"><text y="333">x8</text><text y="343">RRC B</text><text y="353">2   8</text><text y="363">Z 0 0 C</text><text y="374">RR B</text><text y="384">2   8</text><text y="394">Z 0 0 C</text><text y="405">SRA B</text><text y="415">2   8</text><text y="425">Z 0 0 0</text><text y="436">SRL B</text><text y="446">2   8</text><text y="456">Z 0 0 C</text><text y="467">BIT 1,B</text><text y="477">2   8</text><text y="487">Z 0 1 -</text><text y="498">BIT 3,B</text><text y="508">2   8</text><text y="518">Z 0 1 -</text><text y="529">BIT 5,B</text><text y="539">2   8</text><text y="549">Z 0 1 -</text><text y="560">BIT 7,B</text><text y="570">2   8</text><text y="580">Z 0 1 -</text><text y="591">RES 1,B</text><text y="601">2   8</text><text y="611">- - - -</text><text y="622">RES 3,B</text><text y="632">2   8</text><text y="642">- - - -</text><text y="653">RES 5,B</text><text y="663">2   8</text><text y="673">- - - -</text><text y="684">RES 7,B</text><text y="694">2   8</text><text y="704">- - - -</text><text y="715">SET 1,B</text><text y="725">2   8</text><text y="735">- - - -</text><text y="746">SET 3,B</text><text y="756">2   8</text><text y="766">- - - -</text><text y="777">SET 5,B</text><text y="787">2   8</text><text y="797">- - - -</text><text y="808">SET 7,B</text><text y="818">2   8</text><text y="828">- - - -</text></g>
<g class="t" transform="translate(1631.2)"><text y="333">x9</text><text y="343">RRC C</text><text y="353">2   8</text><text y="363">Z 0 0 C</text><text y="374">RR C</text><text y="384">2   8</text><text y="394">Z 0 0 C</text><text y="405">SRA C</text><text y="415">2   8</text><text y="425">Z 0 0 0</text><text y="436">SRL C</text><text y="446">2   8</text><text y="456">Z 0 0 C</text><text y="467">BIT 1,C</text><text y="477">2   8</text><text y="487">Z 0 1 -</text><text y="498">BIT 3,C</text><text y="508">2   8</text><text y="518">Z 0 1 -</text><text y="529">BIT 5,C</text><text y="539">2   8</text><text y="549">Z 0 1 -</text><text y="560">BIT 7,C</text><text y="570">2   8</text><text y="580">Z 0 1 -</text><text y="591">RES 1,C</text><text y="601">2   8</text><text y="611">- - - -</text><text y="622">RES 3,C</text><text y="632">2   8</text><text y="642">- - - -</text><text y="653">RES 5,C</text><text y="663">2   8</text><text y="673">- - - -</text><text y="684">RES 7,C</text><text y="694">2   8</text><text y="704">- - - -</text><text y="715">SET 1,C</text><text y="725">2   8</text><text y="735">- - - -</text><text y="746">SET 3,C</text><text y="756">2   8</text><text y="766">- - - -</text><text y="777">SET 5,C</text><text y="787">2   8</text><text y="797">- - - -</text><text y="808">SET 7,C</text><text y="818">2   8</text><text y="828">- - - -</text></g>
<g class="t" transform="translate(1683.6)"><text y="333">xA</text><text y="343">RRC D</text><text y="353">2   8</text><text y="363">Z 0 0 C</text><text y="374">RR D</text><text y="384">2   8</text><text y="394">Z 0 0 C</text><text y="405">SRA D</text><text y="415">2   8</text><text y="425">Z 0 0 0</text><text y="436">SRL D</text><text y="446">2   8</text><text y="456">Z 0 0 C</text><text y="467">BIT 1,D</text><text y="477">2   8</text><text y="487">Z 0 1 -</text><text y="498">BIT 3,D</text><text y="508">2   8</text><text y="518">Z 0 1 -</text><text y="529">BIT 5,D</text><text y="539">2   8</text><text y="549">Z 0 1 -</text><text y="560">BIT 7,D</text><text y="570">2   8</text><text y="580">Z 0 1 -</text><text y="591">RES 1,D</text><text y="601">2   8</text><text y="611">- - - -</text><text y="622">RES 3,D</text><text y="632">2   8</text><text y="642">- - - -</text><text y="653">RES 5,D</text><text y="663">2   8</text><text y="673">- - - -</text><text y="684">RES 7,D</text><text y="694">2   8</text><text y="704">- - - -</text><text y="715">SET 1,D</text><text y="725">2   8</text><text y="735">- - - -</text><text y="746">SET 3,D</text><text y="756">2   8</text><text y="766">- - - -</text><text y="777">SET 5,D</text><text y="787">2   8</text><text y="797">- - - -</text><text y="808">SET 7,D</text><text y="818">2   8</text><text y="828">- - - -</text></g>
<g class="t" transform="translate(1736.3)"><text y="333">xB</text><text y="343">RRC E</text><text y="353">2   8</text><text y="363">Z 0 0 C</text><text y="374">RR E</text><text y="384">2   8</text><text y="394">Z 0 0 C</text><text y="405">SRA E</text><text y="415">2   8</text><text y="425">Z 0 0 0</text><text y="436">SRL E</text><text y="446">2   8</text><text y="456">Z 0 0 C</text><text y="467">BIT 1,E</text><text y="477">2   8</text><text y="487">Z 0 1 -</text><text y="498">BIT 3,E</text><text y="508">2   8</text><text y="518">Z 0 1 -</text><text y="529">BIT 5,E</text><text y="539">2   8</text><text y="549">Z 0 1 -</text><text y="560">BIT 7,E</text><text y="570">2   8</text><text y="580">Z 0 1 -</text><text y="591">RES 1,E</text><text y="601">2   8</text><text y="611">- - - -</text><text y="622">RES 3,E</text><text y="632">2   8</text><text y="642">- - - -</text><text y="653">RES 5,E</text><text y="663">2   8</text><text y="673">- - - -</text><text y="684">RES 7,E</text><text y="694">2   8</text><text y="704">- - - -</text><text y="715">SET 1,E</text><text y="725">2   8</text><text y="735">- - - -</text><text y="746">SET 3,E</text><text y="756">2   8</text><text y="766">- - - -</text><text y="777">SET 5,E</text><text y="787">2   8</text><text y="797">- - - -</text><text y="808">SET 7,E</text><text y="818">2   8</text><text y="828">- - - -</text></g>
<g class="t" transform="translate(1788.8)"><text y="333">xC</text><text y="343">RRC H</text><text y="353">2   8</text><text y="363">Z 0 0 C</text><text y="374">RR H</text><text y="384">2   8</text><text y="394">Z 0 0 C</text><text y="405">SRA H</text><text y="415">2   8</text><text y="425">Z 0 0 0</text><text y="436">SRL H</text><text y="446">2   8</text><text y="456">Z 0 0 C</text><text y="467">BIT 1,H</text><text y="477">2   8</text><text y="487">Z 0 1 -</text><text y="498">BIT 3,H</text><text y="508">2   8</text><text y="518">Z 0 1 -</text><text y="529">BIT 5,H</text><text y="539">2   8</text><text y="549">Z 0 1 -</text><text y="560">BIT 7,H</text><text y="570">2   8</text><text y="580">Z 0 1 -</text><text y="591">RES 1,H</text><text y="601">2   8</text><text y="611">- - - -</text><text y="622">RES 3,H</text><text y="632">2   8</text><text y="642">- - - -</text><text y="653">RES 5,H</text><text y="663">2   8</text><text y="673">- - - -</text><text y="684">RES 7,H</text><text y="694">2   8</text><text y="704">- - - -</text><text y="715">SET 1,H</text><text y="725">2   8</text><text y="735">- - - -</text><text y="746">SET 3,H</text><text y="756">2   8</text><text y="766">- - - -</text><text y="777">SET 5,H</text><text y="787">2   8</text><text y="797">- - - -</text><text y="808">SET 7,H</text><text y="818">2   8</text><text y="828">- - - -</text></g>
<g class="t" transform="translate(1841.2)"><text y="333">xD</text><text y="343">RRC L</text><text y="353">2   8</text><text y="363">Z 0 0 C</text><text y="374">RR L</text><text y="384">2   8</text><text y="394">Z 0 0 C</text><text y="405">SRA L</text><text y="415">2   8</text><text y="425">Z 0 0 0</text><text y="436">SRL L</text><text y="446">2   8</text><text y="456">Z 0 0 C</text><text y="467">BIT 1,L</text><text y="477">2   8</text><text y="487">Z 0 1 -</text><text y="498">BIT 3,L</text><text y="508">2   8</text><text y="518">Z 0 1 -</text><text y="529">BIT 5,L</text><text y="539">2   8</text><text y="549">Z 0 1 -</text><text y="560">BIT 7,L</text><text y="570">2   8</text><text y="580">Z 0 1 -</text><text y="591">RES 1,L</text><text y="601">2   8</text><text y="611">- - - -</text><text y="622">RES 3,L</text><text y="632">2   8</text><text y="642">- - - -</text><text y="653">RES 5,L</text><text y="663">2   8</text><text y="673">- - - -</text><text y="684">RES 7,L</text><text y="694">2   8</text><text y="704">- - - -</text><text y="715">SET 1,L</text><text y="725">2   8</text><text y="735">- - - -</text><text y="746">SET 3,L</text><text y="756">2   8</text><text y="766">- - - -</text><text y="777">SET 5,L</text><text y="787">2   8</text><text y="797">- - - -</text><text y="808">SET 7,L</text><text y="818">2   8</text><text y="828">- - - -</text></g>
<g class="t" transform="translate(1893.6)"><text y="333">xE</text><text y="343">RRC (HL)</text><text y="353">2   16</text><text y="363">Z 0 0 C</text><text y="374">RR (HL)</text><text y="384">2   16</text><text y="394">Z 0 0 C</text><text y="405">SRA (HL)</text><text y="415">2   16</text><text y="425">Z 0 0 0</text><text y="436">SRL (HL)</text><text y="446">2   16</text><text y="456">Z 0 0 C</text><text y="467">BIT 1,(HL)</text><text y="477">2   16</text><text y="487">Z 0 1 -</text><text y="498">BIT 3,(HL)</text><text y="508">2   16</text><text y="518">Z 0 1 -</text><text y="529">BIT 5,(HL)</text><text y="539">2   16</text><text y="549">Z 0 1 -</text><text y="560">BIT 7,(HL)</text><text y="570">2   16</text><text y="580">Z 0 1 -</text><text y="591">RES 1,(HL)</text><text y="601">2   16</text><text y="611">- - - -</text><text y="622">RES 3,(HL)</text><text y="632">2   16</text><text y="642">- - - -</text><text y="653">RES 5,(HL)</text><text y="663">2   16</text><text y="673">- - - -</text><text y="684">RES 7,(HL)</text><text y="694">2   16</text><text y="704">- - - -</text><text y="715">SET 1,(HL)</text><text y="725">2   16</text><text y="735">- - - -</text><text y="746">SET 3,(HL)</text><text y="756">2   16</text><text y="766">- - - -</text><text y="777">SET 5,(HL)</text><text y="787">2   16</text><text y="797">- - - -</text><text y="808">SET 7,(HL)</text><text y="818">2   16</text><text y="828">- - - -</text></g>
<g class="t" transform="translate(1946.2)"><text y="333">xF</text><text y="343">RRC A</text><text y="353">2   8</text><text y="363">Z 0 0 C</text><text y="374">RR A</text><text y="384">2   8</text><text y="394">Z 0 0 C</text><text y="405">SRA A</text><text y="415">2   8</text><text y="425">Z 0 0 0</text><text y="436">SRL A</text><text y="446">2   8</text><text y="456">Z 0 0 C</text><text y="467">BIT 1,A</text><text y="477">2   8</text><text y="487">Z 0 1 -</text><text y="498">BIT 3,A</text><text y="508">2   8</text><text y="518">Z 0 1 -</text><text y="529">BIT 5,A</text><text y="539">2   8</text><text y="549">Z 0 1 -</text><text y="560">BIT 7,A</text><text y="570">2   8</text><text y="580">Z 0 1 -</text><text y="591">RES 1,A</text><text y="601">2   8</text><text y="611">- - - -</text><text y="622">RES 3,A</text><text y="632">2   8</text><text y="642">- - - -</text><text y="653">RES 5,A</text><text y="663">2   8</text><text y="673">- - - -</text><text y="684">RES 7,A</text><text y="694">2   8</text><text y="704">- - - -</text><text y="715">SET 1,A</text><text y="725">2   8</text><text y="735">- - - -</text><text y="746">SET 3,A</text><text y="756">2   8</text><text y="766">- - - -</text><text y="777">SET 5,A</text><text y="787">2   8</text><text y="797">- - - -</text><text y="808">SET 7,A</text><text y="818">2   8</text><text y="828">- - - -</text></g>
</g>
<g id="logo" transform="translate(1660 1020) scale(.33333)">
<path fill="#e60026" d="M238 57L331 80L284 93L250 122L246 130L240 127Z"/>
<path fill="#e60026" d="M241 130L249 135C248 190 232 260 215 313H115C170 265 225 190 241 130Z"/>
<path fill="none" stroke="#e60026" stroke-width="5" d="M243 128C205 175 150 225 98 254M245 128C262 175 295 215 340 236M245 128C290 180 370 215 470 225"/>
<circle cx="88" cy="260" r="11" fill="#fff" stroke="#e60026" stroke-width="5"/>
<circle cx="342" cy="237" r="10" fill="#e60026"/>
<circle cx="472" cy="225" r="12" fill="#e60026"/>
<text x="237" y="312" font-family="Roboto,Liberation Sans,sans-serif" font-weight="900" font-style="italic" font-size="112" fill="#111" textLength="868" lengthAdjust="spacingAndGlyphs">DiGiTAL CiRCUS</text>
</g>
</svg>
